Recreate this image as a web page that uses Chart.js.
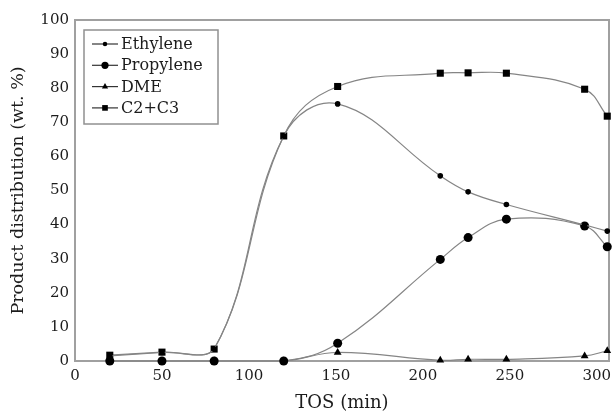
<!DOCTYPE html>
<html>
<head>
<meta charset="utf-8">
<script src="https://cdn.jsdelivr.net/npm/chart.js@4/dist/chart.umd.min.js"></script>
<style>
  html, body { margin: 0; padding: 0; background: #fff; }
  #wrap { width: 614px; height: 414px; }
</style>
</head>
<body>
<div id="wrap"><canvas id="c" width="614" height="414"></canvas></div>
<script>
// time on stream (min)
const tos = [20, 50, 80, 120, 151, 210, 226, 248, 293, 306];
const ethylene  = [1.5, 2.5, 3.5, 66, 75.4, 54.3, 49.6, 45.9, 39.9, 38.1];
const propylene = [0, 0, 0, 0, 5.2, 29.8, 36.2, 41.6, 39.6, 33.5];
const dme       = [0, 0, 0, 0, 2.5, 0.2, 0.5, 0.5, 1.5, 3.0];
const c2c3      = [1.7, 2.6, 3.5, 66, 80.5, 84.4, 84.5, 84.4, 79.7, 71.8];
const xTicks = [0, 50, 100, 150, 200, 250, 300];

const serif = '"DejaVu Serif", "Liberation Serif", serif';
const ink = '#1c1c1c';

function pts(arr) { return tos.map((t, i) => ({ x: t, y: arr[i] })); }

function series(label, arr, style, r) {
  return {
    label: label,
    data: pts(arr),
    borderColor: '#858585',
    borderWidth: 1.2,
    pointStyle: style,
    pointRadius: r,
    pointBackgroundColor: '#000',
    pointBorderColor: '#000',
    pointBorderWidth: 0,
    tension: 0.4,
    clip: false
  };
}

// legend box drawn inside the plot, top-left
const boxLegend = {
  id: 'boxLegend',
  afterDraw(chart) {
    const ctx = chart.ctx;
    const x0 = 84, y0 = 30, w = 134, h = 94;
    ctx.save();
    ctx.strokeStyle = '#909090';
    ctx.lineWidth = 1.5;
    ctx.strokeRect(x0, y0, w, h);
    ctx.font = '16px ' + serif;
    ctx.textBaseline = 'middle';
    chart.data.datasets.forEach((ds, i) => {
      const y = 44 + i * 21.3;
      ctx.strokeStyle = '#333';
      ctx.lineWidth = 1.2;
      ctx.beginPath();
      ctx.moveTo(92, y);
      ctx.lineTo(118, y);
      ctx.stroke();
      ctx.fillStyle = '#000';
      Chart.helpers.drawPoint(ctx, {
        pointStyle: ds.pointStyle, radius: ds.pointRadius * 0.8, borderWidth: 0
      }, 105, y);
      ctx.fillStyle = ink;
      ctx.fillText(ds.label, 121, y + 1);
    });
    ctx.restore();
  }
};

// grey frame around the plot area
const frame = {
  id: 'frame',
  beforeDatasetsDraw(chart) {
    const a = chart.chartArea, ctx = chart.ctx;
    ctx.save();
    ctx.strokeStyle = '#a0a0a0';
    ctx.lineWidth = 2;
    ctx.strokeRect(a.left, a.top, a.right - a.left, a.bottom - a.top);
    ctx.restore();
  }
};

new Chart(document.getElementById('c'), {
  type: 'line',
  data: {
    datasets: [
      series('Ethylene', ethylene, 'circle', 2.8),
      series('Propylene', propylene, 'circle', 4.5),
      series('DME', dme, 'triangle', 4.5),
      series('C2+C3', c2c3, 'rect', 5)
    ]
  },
  options: {
    responsive: false,
    animation: false,
    layout: { padding: { top: 20, right: 2, left: 0, bottom: 0 } },
    plugins: { legend: { display: false }, tooltip: { enabled: false } },
    scales: {
      x: {
        type: 'linear',
        min: 0,
        max: 307,
        afterBuildTicks: (s) => { s.ticks = xTicks.map(v => ({ value: v })); },
        afterFit: (s) => { s.height = 53; },
        grid: { display: false, drawTicks: true, tickLength: 4 },
        border: { color: '#555', width: 1.5 },
        ticks: { color: ink, font: { family: serif, size: 15 }, padding: 2, maxRotation: 0 },
        title: { display: true, text: 'TOS (min)', color: ink, font: { family: serif, size: 18 }, padding: { top: 4, bottom: 0 } }
      },
      y: {
        min: 0,
        max: 100,
        afterFit: (s) => { s.width = 75; },
        grid: { display: false, drawTicks: true, tickLength: 4 },
        border: { color: '#555', width: 1.5 },
        ticks: { stepSize: 10, color: ink, font: { family: serif, size: 15 }, padding: 2 },
        title: { display: true, text: 'Product distribution (wt. %)', color: ink, font: { family: serif, size: 17.5 }, padding: { top: 8, bottom: 4 } }
      }
    }
  },
  plugins: [frame, boxLegend]
});
</script>
</body>
</html>
